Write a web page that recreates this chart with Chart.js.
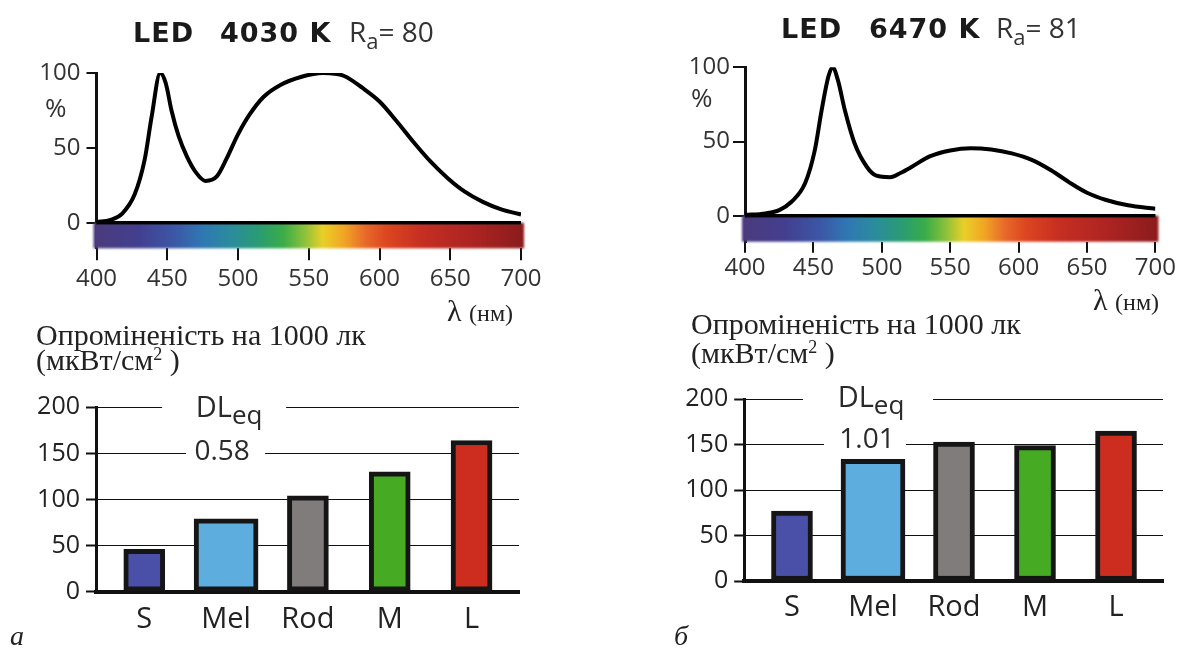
<!DOCTYPE html>
<html>
<head>
<meta charset="utf-8">
<script src="https://cdn.jsdelivr.net/npm/chart.js@4.4.1/dist/chart.umd.min.js"></script>
<style>
  body { margin: 0; width: 1177px; height: 648px; background: #fff; position: relative; overflow: hidden; }
  canvas { position: absolute; }
  .t { position: absolute; white-space: pre; line-height: 1; color: #1a1a1a; }
  .b { font-family: "DejaVu Sans"; font-weight: bold; font-size: 27px; letter-spacing: 1px; }
  .r { font-family: "Open Sans"; font-size: 28px; color: #333; }
  .r sub { font-size: 22px; vertical-align: -7px; line-height: 0; }
  .s { font-family: "Liberation Serif"; font-size: 30px; color: #222; }
  .s sup { font-size: 18px; vertical-align: 10px; line-height: 0; }
  .p { font-family: "Open Sans"; font-size: 26px; color: #333; }
  .i { font-family: "Liberation Serif"; font-style: italic; font-size: 28px; color: #222; }
</style>
</head>
<body>
<canvas id="spec1" width="560" height="335" style="left:0;top:0"></canvas>
<canvas id="spec2" width="587" height="335" style="left:590px;top:0"></canvas>
<canvas id="bars1" width="560" height="268" style="left:0;top:380px"></canvas>
<canvas id="bars2" width="587" height="278" style="left:590px;top:370px"></canvas>

<div class="t b" style="left:133px;top:19px">LED</div>
<div class="t b" style="left:220px;top:19px">4030 K</div>
<div class="t r" style="left:349px;top:17px">R<sub>a</sub>= 80</div>
<div class="t b" style="left:781px;top:15px">LED</div>
<div class="t b" style="left:869px;top:15px">6470 K</div>
<div class="t r" style="left:996px;top:13px">R<sub>a</sub>= 81</div>

<div class="t p" style="left:45px;top:94px">%</div>
<div class="t p" style="left:691px;top:84px">%</div>

<div class="t s" style="left:447px;top:296px">λ <span style="font-size:24px">(нм)</span></div>
<div class="t s" style="left:1093px;top:285px">λ <span style="font-size:24px">(нм)</span></div>

<div class="t s" style="left:36px;top:320px">Опроміненість на 1000 лк</div>
<div class="t s" style="left:36px;top:345px">(мкВт/см<sup>2</sup> )</div>
<div class="t s" style="left:691px;top:309px">Опроміненість на 1000 лк</div>
<div class="t s" style="left:691px;top:338px">(мкВт/см<sup>2</sup> )</div>

<div class="t i" style="left:10px;top:622px">а</div>
<div class="t i" style="left:674px;top:622px">б</div>

<script>
// spectra, relative power (%) by wavelength (nm)
const wl4030 = [400, 410, 418, 427, 434, 439, 445, 449, 453, 458, 464, 470, 477, 485, 492, 500, 508, 518, 530, 545, 560, 575, 588, 600, 612, 624, 636, 648, 660, 673, 686, 700];
const spec4030 = [0.5, 2, 6, 19, 42, 71, 100, 93, 75, 58, 44, 34, 28, 31, 43, 59, 72, 84, 92, 97.5, 100, 98, 90, 81, 68, 54, 41, 30, 21, 14, 9, 5.6];
const wl6470 = [400, 415, 425, 434, 444, 451, 456, 461, 464, 468, 473, 480, 489, 496, 506, 514, 522, 535, 550, 565, 580, 595, 610, 624, 637, 650, 664, 680, 700];
const spec6470 = [0.5, 1.6, 3.8, 9.4, 22, 44, 71, 94, 100, 91, 71, 49, 33, 27, 26, 29, 33, 40, 44, 45.5, 44.6, 42, 37.5, 30.5, 22.5, 15.5, 10.6, 7, 4.7];
const nmTicks = [400, 450, 500, 550, 600, 650, 700];
const pctTicks = [0, 50, 100];

// irradiance per 1000 lx
const receptors = ['S', 'Mel', 'Rod', 'M', 'L'];
const irr4030 = [46, 79, 104, 130, 164];
const irr6470 = [77, 134, 153, 149, 165];
const receptorColors = ['#4a4fa8', '#5daede', '#807c7c', '#46aa23', '#cd2d1e'];
const dleq4030 = '0.58';
const dleq6470 = '1.01';

// colour strip under the spectra
const rainbowNm = [400, 430, 455, 475, 495, 515, 532, 548, 560, 575, 590, 605, 630, 665, 700];
const rainbowColors = ['#4b3b7e', '#433f90', '#3c57a6', '#2f78b4', '#2b8c9c', '#2a9c72', '#3aad48', '#93c23a', '#ead027', '#f1a524', '#e8692a', '#dc4620', '#c62e22', '#ad2422', '#8c1c1c'];

const rainbowPlugin = {
  id: 'rainbow',
  beforeDatasetsDraw(chart) {
    const { ctx, chartArea } = chart;
    const x = chart.scales.x, y = chart.scales.y;
    const x0 = x.getPixelForValue(400), x1 = x.getPixelForValue(700), y0 = y.getPixelForValue(0);
    const g = ctx.createLinearGradient(x0, 0, x1, 0);
    rainbowNm.forEach((nm, i) => g.addColorStop((nm - 400) / 300, rainbowColors[i]));
    ctx.save();
    ctx.filter = 'blur(1px)';
    ctx.fillStyle = g;
    ctx.fillRect(x0 - 3, y0, x1 - x0 + 6, chartArea.bottom - y0);
    ctx.filter = 'none';
    ctx.strokeStyle = '#000';
    ctx.lineWidth = 3.5;
    ctx.beginPath();
    ctx.moveTo(x0, y0);
    ctx.lineTo(x1, y0);
    ctx.stroke();
    ctx.restore();
  }
};

const dleqPlugin = {
  id: 'dleq',
  beforeDatasetsDraw(chart, args, o) {
    const { ctx } = chart;
    const x = chart.scales.x, y = chart.scales.y;
    const cx = x.getPixelForValue(1);
    const y200 = y.getPixelForValue(200), y150 = y.getPixelForValue(150);
    ctx.save();
    ctx.fillStyle = '#fff';
    ctx.fillRect(cx + o.gapTop[0], y200 - 3, o.gapTop[1] - o.gapTop[0], 6);
    ctx.fillRect(cx + o.gapMid[0], y150 - 3, o.gapMid[1] - o.gapMid[0], 6);
    ctx.fillStyle = '#2a2a2a';
    ctx.textBaseline = 'alphabetic';
    ctx.font = '29px "Open Sans"';
    const wDL = ctx.measureText('DL').width;
    ctx.font = '26px "Open Sans"';
    const wEq = ctx.measureText('eq').width;
    const sx = cx + o.dlDx - (wDL + wEq) / 2;
    ctx.font = '29px "Open Sans"';
    ctx.fillText('DL', sx, y200 + o.dlBase);
    ctx.font = '26px "Open Sans"';
    ctx.fillText('eq', sx + wDL, y200 + o.dlBase + 7);
    ctx.font = '28px "Open Sans"';
    ctx.textAlign = 'center';
    ctx.fillText(o.value, cx + o.valDx, y150 + o.valBase);
    ctx.restore();
  }
};

function spectrumChart(id, wl, vals, cfg) {
  return new Chart(document.getElementById(id), {
    type: 'line',
    data: {
      datasets: [{
        data: wl.map((w, i) => ({ x: w, y: vals[i] })),
        borderColor: '#000',
        borderWidth: 4,
        pointRadius: 0,
        cubicInterpolationMode: 'monotone',
        fill: false
      }]
    },
    options: {
      responsive: false,
      animation: false,
      devicePixelRatio: 1,
      layout: { padding: cfg.pad },
      plugins: { legend: { display: false }, tooltip: { enabled: false } },
      scales: {
        x: {
          type: 'linear', min: 400, max: 700,
          afterBuildTicks: s => { s.ticks = nmTicks.map(v => ({ value: v })); },
          afterFit: s => { s.height = cfg.xh; },
          border: { display: false },
          grid: { drawOnChartArea: false, color: '#111', lineWidth: 2, tickLength: cfg.xtl },
          ticks: { font: { family: 'Open Sans', size: 24 }, color: '#333', padding: cfg.xpad, maxRotation: 0, autoSkip: false }
        },
        y: {
          min: cfg.ymin, max: 100,
          afterBuildTicks: s => { s.ticks = pctTicks.map(v => ({ value: v })); },
          afterFit: s => { s.width = cfg.yw; },
          border: { display: true, color: '#111', width: 3 },
          grid: { drawOnChartArea: false, color: '#111', lineWidth: 2, tickLength: cfg.ytl },
          ticks: { font: { family: 'Open Sans', size: 24 }, color: '#333', padding: cfg.ypad }
        }
      }
    },
    plugins: [rainbowPlugin]
  });
}

function irradianceChart(id, vals, dl, cfg) {
  const pts = vals.map((v, i) => ({ x: i, y: v }));
  const common = { borderColor: '#151515', borderWidth: 5, borderSkipped: false, grouped: false };
  return new Chart(document.getElementById(id), {
    type: 'bar',
    data: {
      datasets: [
        Object.assign({
          data: pts.filter((p, i) => i !== 1),
          backgroundColor: receptorColors.filter((c, i) => i !== 1),
          barThickness: 41
        }, common),
        Object.assign({
          data: [pts[1]],
          backgroundColor: receptorColors[1],
          barThickness: 64
        }, common)
      ]
    },
    options: {
      responsive: false,
      animation: false,
      devicePixelRatio: 1,
      layout: { padding: cfg.pad },
      plugins: {
        legend: { display: false },
        tooltip: { enabled: false },
        dleq: Object.assign({ value: dl }, cfg.dl)
      },
      scales: {
        x: {
          type: 'linear', min: -0.59, max: 4.58, offset: false,
          afterBuildTicks: s => { s.ticks = receptors.map((r, i) => ({ value: i })); },
          afterFit: s => { s.height = cfg.xh; },
          border: { display: true, color: '#111', width: 4 },
          grid: { display: false, drawTicks: false },
          ticks: { font: { family: 'Open Sans', size: 29 }, color: '#222', padding: cfg.xpad, maxRotation: 0, autoSkip: false,
                   callback: v => receptors[v] }
        },
        y: {
          min: 0, max: 200,
          ticks: { stepSize: 50, font: { family: 'Open Sans', size: 25 }, color: '#222', padding: 6 },
          afterFit: s => { s.width = cfg.yw; },
          border: { display: true, color: '#111', width: 3 },
          grid: { color: '#111', lineWidth: 1, tickWidth: 2, tickLength: 10 }
        }
      }
    },
    plugins: [dleqPlugin]
  });
}

spectrumChart('spec1', wl4030, spec4030, {
  pad: { top: 73, right: 39, left: 0, bottom: 0 }, yw: 96.5, xh: 86.7, ymin: -17, xtl: 12, xpad: 4, ytl: 10, ypad: 6
});
spectrumChart('spec2', wl6470, spec6470, {
  pad: { top: 67.3, right: 12, left: 0, bottom: 0 }, yw: 155, xh: 93.3, ymin: -17.5, xtl: 11, xpad: 1, ytl: 12, ypad: 3
});
irradianceChart('bars1', irr4030, dleq4030, {
  pad: { top: 27.3, right: 41, left: 0, bottom: 0 }, yw: 96, xh: 56.3, xpad: 11,
  dl: { gapTop: [-64, 60], gapMid: [-40, 39], dlDx: 3, dlBase: 9.4, valDx: -4, valBase: 6.7 }
});
irradianceChart('bars2', irr6470, dleq6470, {
  pad: { top: 29.3, right: 14, left: 0, bottom: 0 }, yw: 154.2, xh: 67, xpad: 9,
  dl: { gapTop: [-70, 60], gapMid: [-49, 33], dlDx: -2, dlBase: 8, valDx: -6, valBase: 3 }
});
</script>
</body>
</html>
